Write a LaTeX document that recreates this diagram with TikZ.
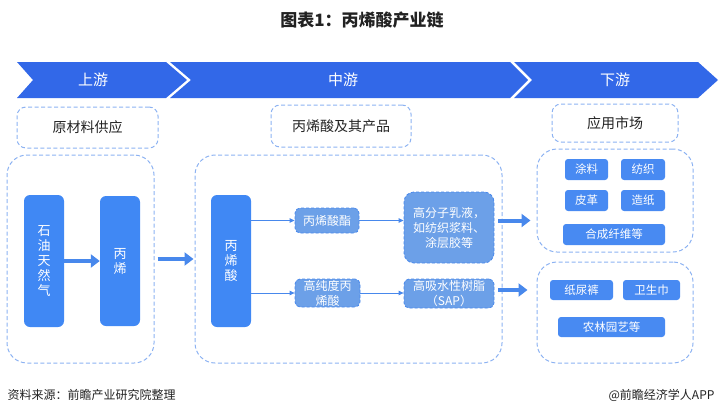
\documentclass[tikz,border=0pt]{standalone}
\usepackage{fontspec}
\setmainfont{Noto Sans CJK SC}
\usetikzlibrary{%
  arrows.meta,% Triangle tips
  positioning%
}
\definecolor{bandblue}{RGB}{50,104,232}
\definecolor{boxblue}{RGB}{64,136,244}
\definecolor{softblue}{RGB}{108,160,232}
\definecolor{tagblue}{RGB}{72,138,242}
\definecolor{dashblue}{RGB}{140,178,242}
\definecolor{linkblue}{RGB}{72,136,236}
\definecolor{inkgray}{RGB}{34,34,34}

\begin{document}
\begin{tikzpicture}[
    x=1pt,y=-1pt,
    line join=round,
    stage/.style={fill=bandblue,draw=none},
    stagelabel/.style={text=white,font=\fontsize{15}{15}\selectfont},
    frame/.style={draw=dashblue,line width=1pt,dash pattern=on 4pt off 2.5pt,
        rounded corners=20pt,inner sep=0pt},
    heading/.style={draw=dashblue,line width=1pt,dash pattern=on 4pt off 2.5pt,
        rounded corners=9pt,inner sep=0pt,text=inkgray,
        font=\fontsize{14}{14}\selectfont},
    tallbox/.style={fill=boxblue,rounded corners=6pt,inner sep=0pt,
        minimum width=40pt,text=white,align=center,
        font=\fontsize{13}{15}\selectfont},
    softbox/.style={fill=softblue,draw=linkblue,line width=0.8pt,
        dash pattern=on 3pt off 2pt,rounded corners=5pt,inner sep=0pt,
        text=white,align=center,font=\fontsize{12}{15}\selectfont},
    tagbox/.style={fill=tagblue,rounded corners=3pt,inner sep=0pt,
        minimum height=21pt,text=white,font=\fontsize{11.5}{12}\selectfont},
    thin/.style={draw=linkblue,line width=0.8pt,-{Triangle[length=5pt,width=4.5pt]}},
    fat/.style={draw=linkblue,line width=4pt,-{Triangle[length=9pt,width=13pt]}}
  ]
    \useasboundingbox (0,0) rectangle (722,415);

    % title
    \node[font=\fontsize{17}{17}\selectfont\bfseries,text=inkgray] (title) at (362,20)
        {图表1：丙烯酸产业链};

    % stages
    \fill[stage] (17,62) -- (166,62) -- (187,80) -- (166,98) -- (17,98) -- (33,80) -- cycle;
    \fill[stage] (170,62) -- (510,62) -- (528,80) -- (510,98) -- (170,98) -- (191,80) -- cycle;
    \fill[stage] (514,62) -- (698,62) -- (718,80) -- (698,98) -- (514,98) -- (532,80) -- cycle;
    \node[stagelabel] (up)   at (93,80)  {上游};
    \node[stagelabel] (mid)  at (343,80) {中游};
    \node[stagelabel] (down) at (615,80) {下游};

    % headings
    \node[heading,minimum width=141pt,minimum height=41pt] (rawhead) at (87.5,127.5) {原材料供应};
    \node[heading,minimum width=140pt,minimum height=42pt] (midhead) at (341,126) {丙烯酸及其产品};
    \node[heading,minimum width=126pt,minimum height=38pt] (apphead) at (615,123) {应用市场};

    % frames
    \node[frame,minimum width=147pt,minimum height=208pt] (upframe)  at (80.5,259) {};
    \node[frame,minimum width=307pt,minimum height=208pt] (midframe) at (348.5,259) {};
    \node[frame,minimum width=156pt,minimum height=103pt] (appA)     at (615,200.5) {};
    \node[frame,minimum width=156pt,minimum height=101pt] (appB)     at (615,312.5) {};

    % upstream
    \node[tallbox,minimum height=132pt] (oil)     at (44,261)  {石\\油\\天\\然\\气};
    \node[tallbox,minimum height=130pt] (propene) at (120,261) {丙\\烯};

    % midstream
    \node[tallbox,minimum height=132pt] (acid)  at (231,261) {丙\\烯\\酸};
    \node[softbox,minimum width=64pt,minimum height=25pt] (ester) at (327,220.5) {丙烯酸酯};
    \node[softbox,minimum width=65pt,minimum height=28pt] (pure)  at (327.5,293) {高纯度丙\\烯酸};
    \node[softbox,minimum width=90pt,minimum height=71pt,rounded corners=10pt] (emul)
        at (449,227.5) {高分子乳液，\\如纺织浆料、\\涂层胶等};
    \node[softbox,minimum width=90pt,minimum height=29pt] (sap) at (449,293.5)
        {高吸水性树脂\\（SAP）};

    % downstream
    \node[tagbox,minimum width=43pt]  (coat)    at (586.5,169.5) {涂料};
    \node[tagbox,minimum width=44pt]  (textile) at (643,169.5)   {纺织};
    \node[tagbox,minimum width=43pt]  (leather) at (586.5,200.5) {皮革};
    \node[tagbox,minimum width=44pt]  (paper)   at (643,200.5)   {造纸};
    \node[tagbox,minimum width=102pt] (fiber)   at (614,234.5)   {合成纤维等};
    \node[tagbox,minimum width=63pt,minimum height=20pt]  (diaper) at (581.5,290) {纸尿裤};
    \node[tagbox,minimum width=57pt,minimum height=20pt]  (pad)    at (651.5,290) {卫生巾};
    \node[tagbox,minimum width=107pt,minimum height=20pt] (agri)   at (611.5,327) {农林园艺等};

    % links
    \draw[fat] (oil.east) -- (propene.west);
    \draw[fat,shorten <=3pt,shorten >=1pt] (upframe.east) -- (midframe.west);
    \draw[thin] (acid.east |- ester) -- (ester.west);
    \draw[thin] (ester.east) -- (emul.west |- ester);
    \draw[thin] (acid.east |- pure) -- (pure.west);
    \draw[thin] (pure.east) -- (sap.west |- pure);
    \draw[fat,shorten <=4pt,shorten >=6pt] (emul.east |- ester) -- (appA.west |- ester);
    \draw[fat,shorten <=4pt,shorten >=9pt] (sap.east |- 0,290) -- (appB.west |- 0,290);

    % footer
    \node[anchor=west,text=inkgray,font=\fontsize{12}{12}\selectfont] (source) at (4,395)
        {资料来源：前瞻产业研究院整理};
    \node[anchor=east,text=inkgray,font=\fontsize{12}{12}\selectfont] (app) at (718,395)
        {@前瞻经济学人APP};
\end{tikzpicture}
\end{document}
